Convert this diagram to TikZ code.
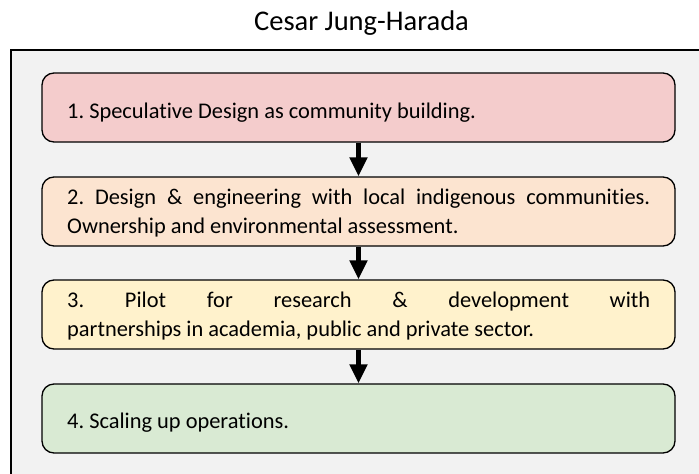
\documentclass[tikz,border=0pt]{standalone}
\usepackage{fontspec}
\setmainfont{Carlito}[Ligatures=NoCommon]
\usetikzlibrary{arrows.meta}

\definecolor{panelbg}{HTML}{F2F2F2}
\definecolor{stepone}{HTML}{F4CCCC}
\definecolor{steptwo}{HTML}{FCE4D0}
\definecolor{stepthree}{HTML}{FFF2CC}
\definecolor{stepfour}{HTML}{D9EAD3}

\tikzset{
  stagebox/.style={draw=black, line width=1.3pt, rounded corners=12pt,
    minimum width=633pt, minimum height=69pt, inner sep=0pt},
  stagetext/.style={anchor=north west, inner sep=0pt, text width=583pt,
    align=justify, font=\fontsize{22.4pt}{29pt}\selectfont},
  flow/.style={line width=5pt, -{Triangle[width=17pt,length=19pt]}},
}

\begin{document}
\frenchspacing
\begin{tikzpicture}[x=1pt, y=-1pt]
  \useasboundingbox (0,0) rectangle (699,474);
  \clip (0,0) rectangle (699,474);
  \fill[white] (0,0) rectangle (699,474);

  % title
  \node[anchor=base, inner sep=0pt, font=\fontsize{28.5pt}{34pt}\selectfont]
    (title) at (361.5,30.5) {Cesar Jung-Harada};

  % grey panel, only its left and top edges are visible
  \fill[panelbg] (11,50) rectangle (710,490);
  \draw[line width=1.4pt] (11,490) -- (11,50) -- (710,50);

  % stage boxes
  \node[stagebox, fill=stepone]   (b1) at (358.5,107.5) {};
  \node[stagebox, fill=steptwo]   (b2) at (358.5,211.5) {};
  \node[stagebox, fill=stepthree] (b3) at (358.5,314.5) {};
  \node[stagebox, fill=stepfour]  (b4) at (358.5,418.5) {};

  % stage texts (first baseline sits 20pt below the node top)
  \node[stagetext] (t1) at (67,98)
    {\rule{0pt}{20pt}1. Speculative Design as community building.};
  \node[stagetext] (t2) at (67,184)
    {\rule{0pt}{20pt}2. Design \& engineering with local indigenous communities.\linebreak
     Ownership and environmental assessment.};
  \node[stagetext] (t3) at (67,287)
    {\rule{0pt}{20pt}3. Pilot for research \& development with\linebreak
     partnerships in academia, public and private sector.};
  \node[stagetext] (t4) at (67,408)
    {\rule{0pt}{20pt}4. Scaling up operations.};

  % connectors
  \draw[flow] (b1.south) -- (b2.north);
  \draw[flow] (b2.south) -- (b3.north);
  \draw[flow] (b3.south) -- (b4.north);
\end{tikzpicture}
\end{document}
